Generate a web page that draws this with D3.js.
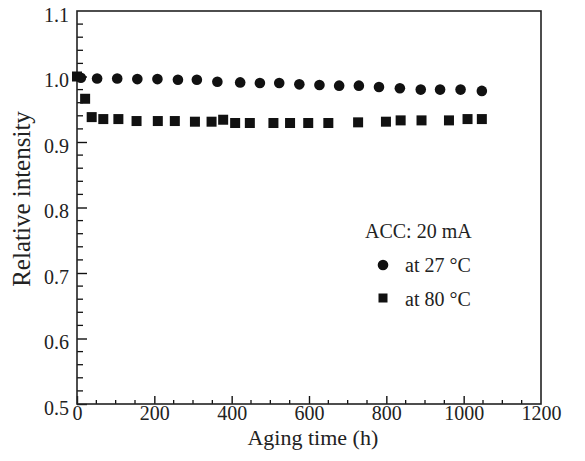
<!DOCTYPE html>
<html>
<head>
<meta charset="utf-8">
<script src="https://cdn.jsdelivr.net/npm/d3@7"></script>
<style>
  html,body{margin:0;padding:0;background:#fff;}
  svg{display:block;}
  svg text{font-family:"Liberation Serif","Times New Roman",serif;}
</style>
</head>
<body>
<div id="chart"></div>
<script>
// data
const hours27=[10,52,104,156,208,261,310,363,422,473,523,575,627,678,729,781,835,889,939,992,1047];
const rel27=[0.998,0.997,0.997,0.996,0.996,0.995,0.995,0.992,0.991,0.990,0.990,0.988,0.987,0.986,0.986,0.984,0.982,0.980,0.980,0.980,0.978];
const hours80=[0,21,38,68,107,154,209,253,305,348,378,409,447,508,551,598,650,727,799,837,891,962,1010,1047];
const rel80=[1.0,0.966,0.938,0.935,0.935,0.932,0.932,0.932,0.931,0.931,0.934,0.929,0.929,0.929,0.929,0.929,0.929,0.930,0.931,0.933,0.933,0.933,0.935,0.935];
const xTicks=[0,200,400,600,800,1000,1200];
const yTicks=[0.5,0.6,0.7,0.8,0.9,1.0,1.1];
const legendTitle='ACC: 20 mA';
const seriesNames=['at 27 °C','at 80 °C'];

const W=585,H=461,m={t:11,r:44,b:57,l:77};
const w=W-m.l-m.r,h=H-m.t-m.b;
const ink='#111';

const svg=d3.select('#chart').append('svg').attr('width',W).attr('height',H);
const g=svg.append('g').attr('transform',`translate(${m.l},${m.t})`);

const x=d3.scaleLinear().domain([0,1200]).range([0,w]);
const y=d3.scaleLinear().domain([0.5,1.1]).range([h,0]);

// minor ticks (inside)
const xMinor=d3.range(0,1201,50).filter(v=>v%200!==0);
const yMinor=d3.range(0,31).map(i=>0.5+i*0.02).filter(v=>Math.abs(Math.round(v*10)-v*10)>1e-6);
g.append('g').selectAll('line').data(xMinor).join('line')
  .attr('x1',d=>x(d)).attr('x2',d=>x(d)).attr('y1',h).attr('y2',h-4)
  .attr('stroke',ink).attr('stroke-width',1.3);
g.append('g').selectAll('line').data(yMinor).join('line')
  .attr('x1',0).attr('x2',6).attr('y1',d=>y(d)).attr('y2',d=>y(d))
  .attr('stroke',ink).attr('stroke-width',1.3);

// major axes
const xAx=g.append('g').attr('transform',`translate(0,${h})`)
  .call(d3.axisBottom(x).tickValues(xTicks).tickSize(-8).tickPadding(2).tickFormat(d3.format('d')));
const yAx=g.append('g')
  .call(d3.axisLeft(y).tickValues(yTicks).tickSize(-10).tickPadding(8).tickFormat(d3.format('.1f')));
[xAx,yAx].forEach(a=>{
  a.attr('font-family',null).attr('font-size',null);
  a.select('.domain').remove();
  a.selectAll('.tick line').attr('stroke',ink).attr('stroke-width',1.4);
  a.selectAll('.tick text').style('font-size','20px').attr('fill','#222');
});
yAx.selectAll('.tick text').attr('dy','0.5em');
yAx.selectAll('.tick').filter(d=>d===1.1).select('line').remove();
xAx.selectAll('.tick').filter(d=>d===1200).select('line').remove();

// frame
g.append('rect').attr('width',w).attr('height',h).attr('fill','none').attr('stroke','#222').attr('stroke-width',1.6);

// data
const d27=hours27.map((t,i)=>({t,v:rel27[i]}));
const d80=hours80.map((t,i)=>({t,v:rel80[i]}));
const sq=10;
g.selectAll('.sq').data(d80).join('rect').attr('class','sq')
  .attr('x',d=>x(d.t)-sq/2).attr('y',d=>y(d.v)-sq/2).attr('width',sq).attr('height',sq).attr('fill',ink);
g.selectAll('.ci').data(d27).join('circle').attr('class','ci')
  .attr('cx',d=>x(d.t)).attr('cy',d=>y(d.v)).attr('r',5.3).attr('fill',ink);

// axis titles
svg.append('text').attr('x',m.l+x(610)).attr('y',445).attr('text-anchor','middle')
  .style('font-size','22px').attr('fill','#222').text('Aging time (h)');
svg.append('text').attr('transform','translate(30,199) rotate(-90)').attr('text-anchor','middle')
  .style('font-size','25px').attr('fill','#222').text('Relative intensity');

// legend
const leg=svg.append('g').attr('transform','translate(365,0)');
leg.append('text').attr('x',0).attr('y',238).style('font-size','20px').attr('fill','#222').text(legendTitle);
leg.append('circle').attr('cx',18).attr('cy',265).attr('r',5.3).attr('fill',ink);
leg.append('text').attr('x',40).attr('y',272).style('font-size','20px').attr('fill','#222').text(seriesNames[0]);
leg.append('rect').attr('x',18-4.5).attr('y',298-4.5).attr('width',9).attr('height',9).attr('fill',ink);
leg.append('text').attr('x',40).attr('y',306).style('font-size','20px').attr('fill','#222').text(seriesNames[1]);
</script>
</body>
</html>
